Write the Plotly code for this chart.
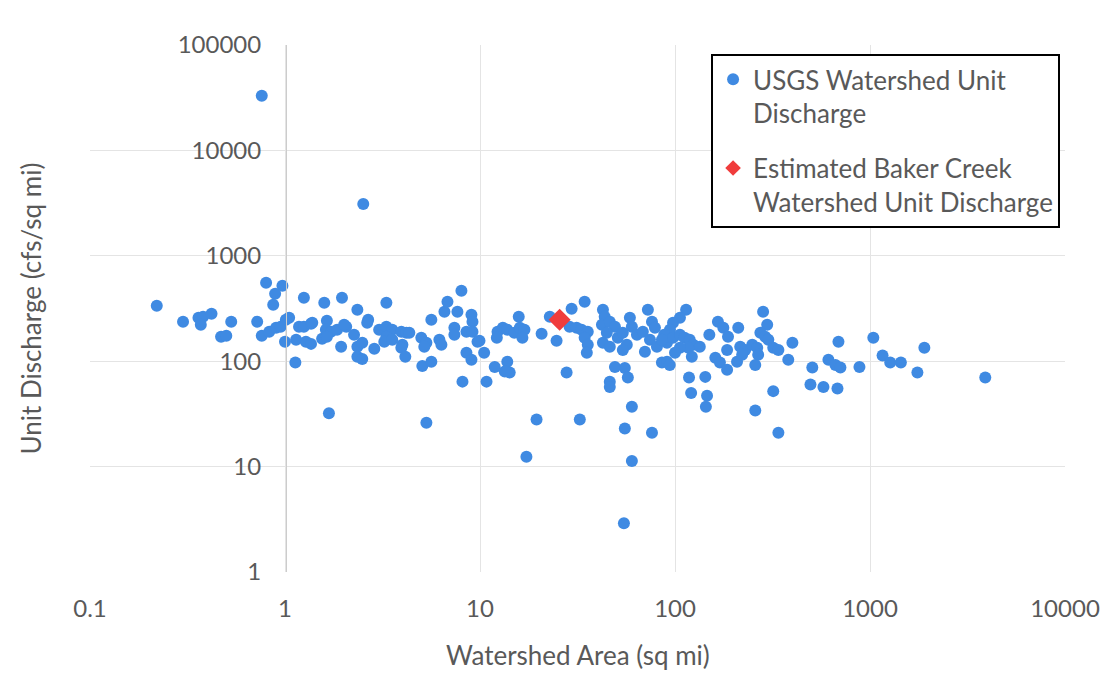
import plotly.graph_objects as go

# USGS watershed data (area in sq mi, unit discharge in cfs/sq mi)
area = [0.22, 0.30, 0.36, 0.38, 0.42, 0.37, 0.53, 0.47, 0.50, 0.72, 0.76, 0.83, 0.90, 0.95, 0.80, 0.97, 0.89, 0.87, 1.0,
        1.05, 1.01, 1.14, 1.18, 1.25, 1.36, 1.38, 1.28, 1.36, 1.13, 1.25, 1.59, 1.96, 1.64, 1.62, 1.72, 1.55, 1.64, 1.85, 2.06,
        2.01, 1.94, 2.35, 2.26, 2.35, 2.49, 2.35, 2.49, 2.87, 2.67, 2.64, 3.31, 3.04, 3.31, 3.55, 3.31, 3.23, 3.55, 3.95, 4.19,
        4.34, 4.0, 3.95, 4.14, 5.0, 5.31, 5.18, 5.63, 5.06, 5.63, 6.19, 6.34, 6.57, 6.81, 8.03, 7.66, 7.39, 7.39, 8.52, 9.04,
        9.15, 8.52, 9.04, 8.13, 1.68, 5.31, 9.71,
        9.15, 9.94, 10.5, 10.8, 11.9, 13.8, 14.2, 13.4, 12.3, 12.2, 13.1, 13.8, 15.0, 16.0, 16.9, 16.5, 15.8, 20.7, 22.8, 24.7,
        29.5, 34.4, 27.8, 28.8, 31.3, 33.2, 35.7, 34.4, 35.7, 35.3, 42.7, 43.6, 42.2, 46.3, 49.2, 44.7, 42.7, 46.3, 50.9, 54.0,
        58.7, 60.1, 56.6, 54.0, 63.8, 68.4, 72.6, 76.2, 78.9, 74.4, 70.1, 80.8, 90.9, 49.2, 55.3, 57.3, 46.3, 46.3, 60.1, 19.5,
        32.5, 55.3, 76.2, 85.7,
        114, 106, 97.7, 94.2, 88, 85.7, 97.7, 106, 112, 119, 124, 134, 117, 106, 100, 122, 91, 94, 150, 166,
        177, 187, 211, 185, 161, 170, 185, 208, 216, 229, 249, 264, 267, 221, 258, 283, 297, 274, 290, 301,
        319, 339, 400, 381, 118, 143, 121, 146, 144, 319, 258, 339, 506, 495, 612, 665, 705, 577, 681, 689, 883,
        1040, 1160, 1270, 1440, 1750, 1900, 3900,
        0.76, 2.52, 17.3, 60.1, 54.7]

discharge = [336, 237, 258, 264, 282, 222, 237, 171, 174, 237, 174, 190, 208, 212, 555, 520, 437, 343, 153,
             258, 247, 160, 212, 212, 227, 232, 153, 146, 97, 400, 359, 400, 242, 199, 190, 163, 171, 199, 212,
             222, 137, 308, 178, 137, 150, 110, 105, 131, 247, 232, 359, 199, 212, 199, 171, 153, 160, 190, 186,
             186, 143, 134, 110, 167, 150, 137, 247, 90, 99, 160, 143, 294, 367, 466, 294, 208, 178, 190, 276,
             237, 120, 103, 64, 32, 26, 153,
             190, 156, 120, 64, 88, 99, 78, 80, 190, 167, 208, 199, 186, 208, 199, 167, 264, 182, 264, 156,
             315, 367, 78, 212, 208, 199, 190, 167, 143, 120, 308, 264, 222, 237, 212, 186, 150, 137, 167, 186,
             258, 212, 143, 128, 178, 190, 308, 237, 208, 160, 123, 137, 150, 88, 86, 70, 64, 57, 37, 28,
             28, 23, 21, 97,
             308, 258, 232, 199, 178, 160, 167, 178, 167, 160, 143, 137, 134, 134, 120, 110, 99, 92, 178, 237,
             208, 171, 208, 128, 108, 97, 83, 99, 137, 128, 143, 134, 115, 115, 92, 294, 222, 186, 171, 160,
             134, 128, 150, 103, 70, 71, 50, 47, 37, 52, 34, 21, 87, 60, 103, 92, 87, 57, 55, 153, 88,
             167, 113, 97, 97, 78, 134, 70,
             33000, 3100, 12.4, 11.3, 2.9]

baker_area = [25.6]
baker_discharge = [247]

x_ticks = [0.1, 1, 10, 100, 1000, 10000]
x_labels = ["0.1", "1", "10", "100", "1000", "10000"]
y_ticks = [1, 10, 100, 1000, 10000, 100000]
y_labels = ["1", "10", "100", "1000", "10000", "100000"]

FONT = "Lato"
TXT = "#595959"
GRID = "#e4e4e4"

fig = go.Figure()
fig.add_trace(go.Scatter(
    x=area, y=discharge, mode="markers",
    name="USGS Watershed Unit<br>Discharge",
    legendgroup="a",
    marker=dict(color="#3F8AE2", size=12, line=dict(width=0)),
))
fig.add_trace(go.Scatter(
    x=baker_area, y=baker_discharge, mode="markers",
    name="Estimated Baker Creek<br>Watershed Unit Discharge",
    legendgroup="b",
    marker=dict(color="#F03C3C", size=17, symbol="diamond", line=dict(width=0)),
))

fig.update_layout(
    width=1120, height=674,
    margin=dict(l=90, r=55, t=45, b=102),
    paper_bgcolor="white", plot_bgcolor="white",
    font=dict(family=FONT, color=TXT, size=24),
    showlegend=True,
    legend=dict(
        x=0.637, y=0.983, xanchor="left", yanchor="top",
        bordercolor="black", borderwidth=2, bgcolor="white",
        font=dict(family=FONT, size=26, color=TXT),
        traceorder="grouped", tracegroupgap=18, valign="top",
        itemsizing="constant",
    ),
    xaxis=dict(
        type="log", range=[-1, 4],
        tickvals=x_ticks, ticktext=x_labels,
        showgrid=True, gridcolor=GRID, gridwidth=1,
        zeroline=False, showline=False, ticks="",
        ticklabelstandoff=20,
        tickfont=dict(family=FONT, size=24, color=TXT),
    ),
    yaxis=dict(
        type="log", range=[0, 5],
        tickvals=y_ticks, ticktext=y_labels,
        showgrid=True, gridcolor=GRID, gridwidth=1,
        zeroline=False, showline=True, linecolor="#cccccc", linewidth=1,
        ticks="", anchor="free", position=0.201,
        ticklabelstandoff=20,
        tickfont=dict(family=FONT, size=24, color=TXT),
    ),
    annotations=[
        dict(text="Watershed Area (sq mi)", xref="paper", yref="paper",
             x=0.5, y=-0.1575, xanchor="center", yanchor="middle",
             showarrow=False, font=dict(family=FONT, size=26, color=TXT)),
        dict(text="Unit Discharge (cfs/sq mi)", xref="paper", yref="paper",
             x=-0.0615, y=0.5, xanchor="center", yanchor="middle", textangle=-90,
             showarrow=False, font=dict(family=FONT, size=26, color=TXT)),
    ],
)

fig.write_html("out.html")
